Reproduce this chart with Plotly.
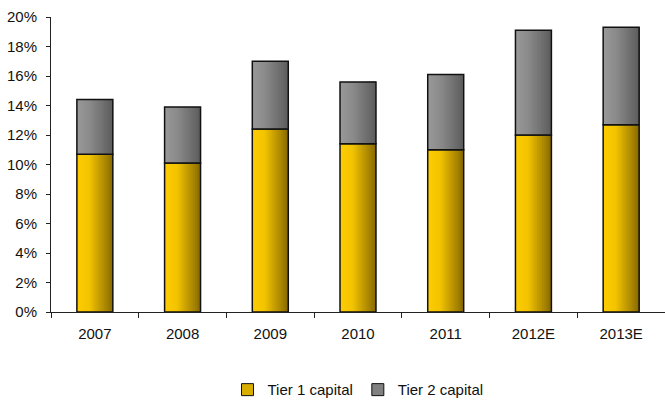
import plotly.graph_objects as go

# Capital ratios by year (share of risk-weighted assets)
years = ["2007", "2008", "2009", "2010", "2011", "2012E", "2013E"]
tier1 = [0.107, 0.101, 0.124, 0.114, 0.110, 0.120, 0.127]
tier2 = [0.037, 0.038, 0.046, 0.042, 0.051, 0.071, 0.066]

y_ticks = [0, 0.02, 0.04, 0.06, 0.08, 0.10, 0.12, 0.14, 0.16, 0.18, 0.20]

BAR_W = 0.41
N_STRIPS = 20
FONT = "Liberation Sans, Arial, sans-serif"


def lerp(c1, c2, t):
    return tuple(round(a + (b - a) * t) for a, b in zip(c1, c2))


def gradient(stops, t):
    for (p0, c0), (p1, c1) in zip(stops, stops[1:]):
        if t <= p1:
            return lerp(c0, c1, (t - p0) / (p1 - p0))
    return stops[-1][1]


yellow_stops = [(0.0, (255, 204, 0)), (0.35, (242, 195, 0)), (1.0, (136, 106, 0))]
grey_stops = [(0.0, (153, 153, 153)), (0.35, (139, 139, 139)), (1.0, (92, 92, 92))]

fig = go.Figure()


def add_series(name, values, base, stops):
    # horizontal shading: each strip runs from its start to the bar's right edge,
    # later (darker) strips painted over earlier ones
    w = BAR_W / N_STRIPS
    for i in range(N_STRIPS):
        r, g, b = gradient(stops, (i + 0.5) / N_STRIPS)
        fig.add_trace(go.Bar(
            x=years, y=values, base=base,
            width=BAR_W - i * w, offset=-BAR_W / 2 + i * w,
            marker=dict(color=f"rgb({r},{g},{b})", line=dict(width=0)),
            showlegend=False, hoverinfo="skip",
        ))
    # black outline of each segment
    fig.add_trace(go.Bar(
        x=years, y=values, base=base, width=BAR_W,
        marker=dict(color="rgba(0,0,0,0)", line=dict(color="#111111", width=1.5)),
        showlegend=False, name=name,
    ))
    # legend entry
    r, g, b = gradient(stops, 0.5)
    fig.add_trace(go.Bar(
        x=[years[0]], y=[None], name=name,
        marker=dict(color=f"rgb({r},{g},{b})", line=dict(color="#111111", width=1)),
        showlegend=True,
    ))


add_series("Tier 1 capital", tier1, [0] * len(years), yellow_stops)
add_series("Tier 2 capital", tier2, tier1, grey_stops)

fig.update_layout(
    width=665, height=407,
    margin=dict(l=51, r=0, t=17, b=95),
    barmode="overlay",
    plot_bgcolor="white", paper_bgcolor="white",
    font=dict(family=FONT, size=15, color="#111111"),
    showlegend=True,
    legend=dict(orientation="h", x=0.5, xanchor="center", y=-0.264, yanchor="middle",
                font=dict(size=15), itemwidth=30, tracegroupgap=0),
)
fig.update_xaxes(
    type="category", categoryorder="array", categoryarray=years,
    showline=True, linecolor="#222222", linewidth=1,
    ticks="outside", ticklen=5, tickcolor="#222222", tickson="boundaries",
    showgrid=False, ticklabelstandoff=8, range=[-0.5, 6.5],
)
fig.update_yaxes(
    range=[0, 0.2], tickvals=y_ticks, tickformat=".0%",
    showline=True, linecolor="#222222", linewidth=1,
    ticks="outside", ticklen=4, tickcolor="#222222",
    showgrid=False, zeroline=False, ticklabelstandoff=6,
)

fig.write_html("out.html")
